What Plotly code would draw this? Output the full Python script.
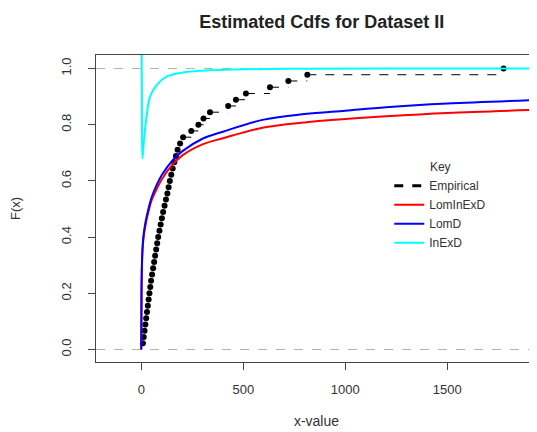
import plotly.graph_objects as go

# Empirical data (sorted sample), F = i/n
emp_x = [8, 12, 16, 20, 24, 28, 32, 36, 40, 44, 48, 53, 58, 63, 68, 73, 78, 83, 89, 95,
         101, 107, 114, 121, 128, 134, 140, 147, 154, 162, 170, 178, 190, 205, 245, 280,
         305, 337, 426, 464, 513, 631, 721, 814, 1776]
n = len(emp_x)
emp_F = [(i + 1) / n for i in range(n)]

# Fitted CDF curves
curve_x = [0, 1, 3, 6, 10, 20, 35, 50, 75, 100, 150, 200, 300, 400, 600, 800, 1000, 1200, 1500, 1950]
lominexd_F = [0, 0.19, 0.29, 0.35, 0.39, 0.44, 0.49, 0.53, 0.57, 0.605, 0.655, 0.69, 0.73, 0.752,
              0.79, 0.808, 0.82, 0.83, 0.842, 0.853]
lomd_F = [0, 0.20, 0.30, 0.36, 0.40, 0.45, 0.50, 0.54, 0.585, 0.62, 0.67, 0.705, 0.75, 0.775,
          0.818, 0.838, 0.85, 0.862, 0.875, 0.888]
inexd_x = [0.5, 3, 5, 7, 10, 18, 26, 43, 75, 124, 200, 300, 500, 800, 1200, 1950]
inexd_F = [1.2, 0.9, 0.68, 0.69, 0.72, 0.78, 0.83, 0.9, 0.941, 0.971, 0.985, 0.992, 0.997, 0.999, 1.0, 1.0]

x_ticks = [0, 500, 1000, 1500]
y_ticks = [0.0, 0.2, 0.4, 0.6, 0.8, 1.0]

# step segments of the ecdf (horizontal only)
seg_x, seg_y = [], []
for i in range(n - 1):
    seg_x += [emp_x[i], emp_x[i + 1], None]
    seg_y += [emp_F[i], emp_F[i], None]

fig = go.Figure()
fig.add_hline(y=0, line=dict(color="#b3b3b3", width=1, dash="dash"), layer="below")
fig.add_hline(y=1, line=dict(color="#b3b3b3", width=1, dash="dash"), layer="below")

fig.add_trace(go.Scatter(x=seg_x, y=seg_y, mode="lines", showlegend=False,
                         line=dict(color="black", width=1, dash="dash"), hoverinfo="skip"))
fig.add_trace(go.Scatter(x=emp_x, y=emp_F, mode="markers", showlegend=False,
                         marker=dict(color="black", size=6)))
fig.add_trace(go.Scatter(x=[None], y=[None], mode="lines", name="Empirical",
                         line=dict(color="black", width=3, dash="dash")))
fig.add_trace(go.Scatter(x=curve_x, y=lominexd_F, mode="lines", name="LomInExD",
                         line=dict(color="#ff0000", width=2, shape="spline")))
fig.add_trace(go.Scatter(x=curve_x, y=lomd_F, mode="lines", name="LomD",
                         line=dict(color="#0000ff", width=2, shape="spline")))
fig.add_trace(go.Scatter(x=inexd_x, y=inexd_F, mode="lines", name="InExD",
                         line=dict(color="#00ffff", width=2, shape="spline")))

FAM = "Liberation Sans, Arial, sans-serif"
tick_font = dict(family=FAM, size=13, color="#333")
fig.update_layout(
    width=529, height=424,
    margin=dict(l=88, r=0, t=47, b=70),
    plot_bgcolor="white", paper_bgcolor="white",
    font=dict(family=FAM, size=13, color="#333"),
    title=dict(text="<b>Estimated Cdfs for Dataset II</b>", x=0.512, xref="paper", xanchor="center",
               y=0.967, yanchor="middle", yref="container",
               font=dict(family=FAM, size=18, color="#222")),
    xaxis=dict(range=[-222, 1940], tickvals=x_ticks, ticks="outside", ticklen=7,
               ticklabelstandoff=8,
               showline=True, linecolor="#444", linewidth=1, mirror=True, showgrid=False,
               zeroline=False, title=dict(text="x-value", standoff=20, font=dict(size=14)),
               tickfont=tick_font),
    yaxis=dict(range=[-0.0445, 1.048], tickvals=y_ticks, tickformat=".1f", ticks="outside",
               ticklen=7, tickangle=-90, ticklabelstandoff=12,
               showline=True, linecolor="#444", linewidth=1,
               mirror=False, showgrid=False, zeroline=False,
               title=dict(text="F(x)", standoff=36, font=dict(size=13)), tickfont=tick_font),
    legend=dict(x=0.665, y=0.672, xanchor="left", yanchor="top",
                bgcolor="rgba(0,0,0,0)", font=dict(size=12, color="#333"),
                title=dict(text="Key", side="top center", font=dict(size=12, color="#333")),
                tracegroupgap=0),
    showlegend=True,
)

fig.write_html("out.html")
